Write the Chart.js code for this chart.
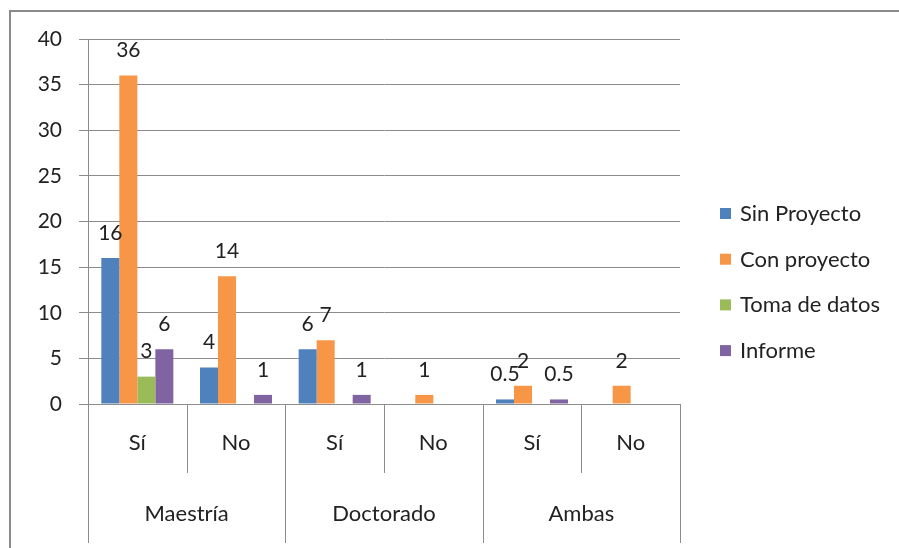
<!DOCTYPE html>
<html>
<head>
<meta charset="utf-8">
<script src="https://cdn.jsdelivr.net/npm/chart.js@4/dist/chart.umd.min.js"></script>
<style>
  body { margin: 0; background: #fff; }
  #wrap { position: relative; width: 899px; height: 548px; }
  #frame { position: absolute; left: 9px; top: 10px; right: -5px; bottom: -5px; border: 2px solid #8a8a8a; }
</style>
</head>
<body>
<div id="wrap">
  <canvas id="chart"></canvas>
  <div id="frame"></div>
</div>
<script>
const subLabels = ['Sí', 'No', 'Sí', 'No', 'Sí', 'No'];
const groupLabels = ['Maestría', 'Doctorado', 'Ambas'];
const seriesNames = ['Sin Proyecto', 'Con proyecto', 'Toma de datos', 'Informe'];
const sinProyecto = [16, 4, 6, null, 0.5, null];
const conProyecto = [36, 14, 7, 1, 2, 2];
const tomaDatos = [3, null, null, null, null, null];
const informe = [6, 1, 1, null, 0.5, null];
const yTicks = [0, 5, 10, 15, 20, 25, 30, 35, 40];

const colors = ['#4F81BD', '#F79646', '#9BBB59', '#8064A2'];
const fontFamily = 'Lato, "Liberation Sans", sans-serif';

// labels on top of bars, category axis with two levels, legend on the right
const extras = {
  id: 'extras',
  afterDatasetsDraw(chart) {
    const ctx = chart.ctx;
    ctx.save();
    ctx.font = '21px ' + fontFamily;
    ctx.fillStyle = '#222';
    ctx.textAlign = 'center';
    ctx.textBaseline = 'middle';
    chart.data.datasets.forEach((ds, i) => {
      const meta = chart.getDatasetMeta(i);
      meta.data.forEach((bar, j) => {
        const v = ds.data[j];
        if (v === null || v === undefined) return;
        ctx.fillText(String(v), bar.x, bar.y - 25);
      });
    });
    ctx.restore();
  },
  afterDraw(chart) {
    const ctx = chart.ctx;
    const x = chart.scales.x;
    const area = chart.chartArea;
    ctx.save();
    ctx.strokeStyle = '#8c8c8c';
    ctx.lineWidth = 1;
    const step = x.getPixelForValue(1) - x.getPixelForValue(0);
    for (let i = 0; i <= subLabels.length; i++) {
      const px = Math.round(x.getPixelForValue(i) - step / 2) + 0.5;
      const long = i % 2 === 0;
      ctx.beginPath();
      ctx.moveTo(px, area.bottom);
      ctx.lineTo(px, long ? area.bottom + 139 : area.bottom + 69);
      ctx.stroke();
    }
    ctx.font = '22px ' + fontFamily;
    ctx.fillStyle = '#222';
    ctx.textAlign = 'center';
    ctx.textBaseline = 'middle';
    subLabels.forEach((s, i) => {
      ctx.fillText(s, x.getPixelForValue(i), area.bottom + 39);
    });
    groupLabels.forEach((g, k) => {
      const cx = (x.getPixelForValue(2 * k) + x.getPixelForValue(2 * k + 1)) / 2;
      ctx.fillText(g, cx, area.bottom + 110);
    });

    // legend
    ctx.textAlign = 'left';
    chart.data.datasets.forEach((ds, i) => {
      const cy = 214 + i * 45.7;
      ctx.fillStyle = ds.backgroundColor;
      ctx.fillRect(720, cy - 6, 11, 11);
      ctx.fillStyle = '#222';
      ctx.fillText(ds.label, 740, cy);
    });
    ctx.restore();
  }
};

const seriesData = [sinProyecto, conProyecto, tomaDatos, informe];

new Chart(document.getElementById('chart'), {
  type: 'bar',
  data: {
    labels: subLabels,
    datasets: seriesNames.map((name, i) => ({
      label: name,
      data: seriesData[i],
      backgroundColor: colors[i],
      categoryPercentage: 0.73,
      barPercentage: 1.0
    }))
  },
  options: {
    responsive: true,
    maintainAspectRatio: false,
    animation: false,
    layout: { padding: { left: 10, right: 219, top: 39, bottom: 0 } },
    plugins: {
      legend: { display: false },
      tooltip: { enabled: false }
    },
    scales: {
      x: {
        ticks: { display: false },
        grid: { display: false },
        border: { display: false },
        afterFit(scale) { scale.height = 144; }
      },
      y: {
        min: 0,
        max: 40,
        afterBuildTicks(scale) { scale.ticks = yTicks.map(v => ({ value: v })); },
        ticks: {
          padding: 17,
          color: '#222',
          font: { family: fontFamily, size: 21 }
        },
        grid: { color: '#8c8c8c', lineWidth: 1, tickLength: 9 },
        border: { color: '#8c8c8c' },
        afterFit(scale) { scale.width = 78; }
      }
    }
  },
  plugins: [extras]
});
</script>
</body>
</html>
